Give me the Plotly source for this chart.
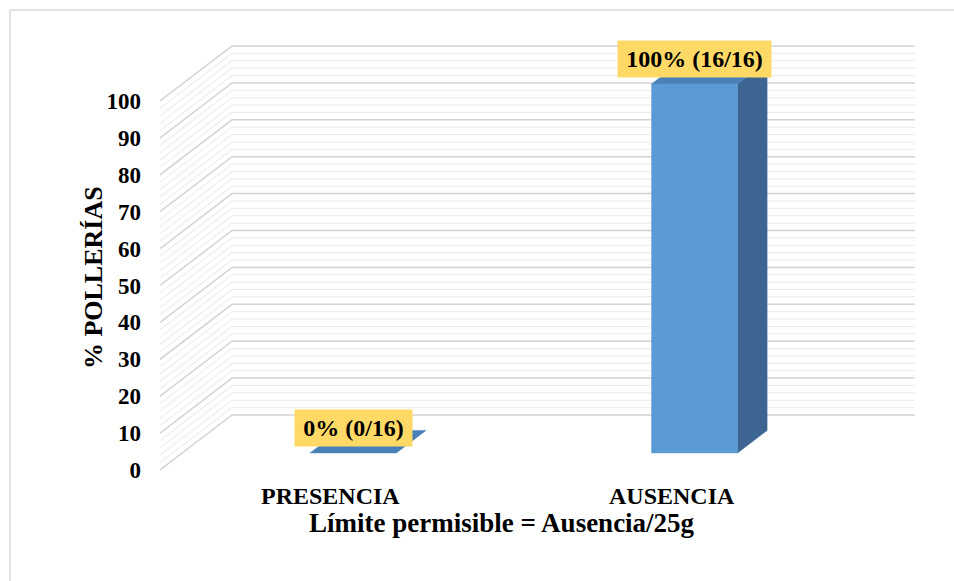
import plotly.graph_objects as go

# Data
categories = ["PRESENCIA", "AUSENCIA"]
percent = [0, 100]
counts = ["0/16", "16/16"]
y_ticks = list(range(0, 101, 10))

# Pseudo-3D geometry (in axis units)
PX_PER_CAT = 341.5          # pixels per category on the front plane
PX_PER_VAL = 3.69           # pixels per percentage point
DX = 72 / PX_PER_CAT        # horizontal shift of the back wall
DY = 55 / PX_PER_VAL        # vertical shift of the back wall
BAR_W = 86 / PX_PER_CAT
FRONT, BACK = 0.31, 0.72    # bar depth position (fraction of floor depth)

FRONT_COL = "#5B9BD5"
SIDE_COL = "#3C6591"
TOP_COL = "#4A80B8"
FONT = "Liberation Serif"

PLOT_L, PLOT_W, PLOT_T, PLOT_H = 160, 755, 30, 450
X0, X1 = -0.5, len(categories) - 0.5
Y_MIN = -10 / PX_PER_VAL
Y_MAX = 440 / PX_PER_VAL


def px_x(px):
    return (px - PLOT_L) / PLOT_W


def px_y(py):
    return (PLOT_T + PLOT_H - py) / PLOT_H


def proj(x, v, d):
    """Project a point at depth d (0=front, 1=back) to 2D axis coords."""
    return x + d * DX, v + d * DY


fig = go.Figure()

# Wall gridlines: side wall (left) + back wall
for v in range(0, 101, 2):
    major = v % 10 == 0
    pts = [proj(X0, v, 0), proj(X0, v, 1), proj(X1, v, 1)]
    fig.add_trace(go.Scatter(
        x=[p[0] for p in pts], y=[p[1] for p in pts], mode="lines",
        line=dict(color="#D3D3D3" if major else "#ECECEC", width=1.5 if major else 1.1),
        hoverinfo="skip", showlegend=False))


def poly(points, color):
    xs = [p[0] for p in points] + [points[0][0]]
    ys = [p[1] for p in points] + [points[0][1]]
    fig.add_trace(go.Scatter(
        x=xs, y=ys, mode="lines", fill="toself", fillcolor=color,
        line=dict(color=color, width=0.5), hoverinfo="skip", showlegend=False))


# Bars as boxes
for i, v in enumerate(percent):
    xl, xr = i - BAR_W / 2, i + BAR_W / 2
    # right side face
    poly([proj(xr, 0, FRONT), proj(xr, 0, BACK), proj(xr, v, BACK), proj(xr, v, FRONT)], SIDE_COL)
    # top face
    poly([proj(xl, v, FRONT), proj(xr, v, FRONT), proj(xr, v, BACK), proj(xl, v, BACK)], TOP_COL)
    # front face
    if v > 0:
        poly([proj(xl, 0, FRONT), proj(xr, 0, FRONT), proj(xr, v, FRONT), proj(xl, v, FRONT)], FRONT_COL)

# Data labels
label_w = [113, 149]
for i, v in enumerate(percent):
    lx, ly = proj(i, v, FRONT)
    fig.add_annotation(
        x=lx, y=ly, xref="x", yref="y", yanchor="bottom", yshift=6,
        text=f"<b>{v}% ({counts[i]})</b>", showarrow=False,
        font=dict(family=FONT, size=24, color="black"),
        bgcolor="#FFD966", borderpad=2, width=label_w[i], height=32)

# Category labels on the front floor edge
for i, c in enumerate(categories):
    fig.add_annotation(
        x=i, y=px_y(496), xref="x", yref="paper", xanchor="center", yanchor="middle",
        text=f"<b>{c}</b>", showarrow=False,
        font=dict(family=FONT, size=24, color="black"))

# Axis titles
fig.add_annotation(
    x=(X0 + X1) / 2, y=px_y(523), xref="x", yref="paper", xanchor="center", yanchor="middle",
    text="<b>Límite permisible = Ausencia/25g</b>", showarrow=False,
    font=dict(family=FONT, size=27, color="black"))
fig.add_annotation(
    x=px_x(93), xref="paper", y=52, yref="y", xanchor="center", yanchor="middle",
    textangle=-90, text="<b>% POLLERÍAS</b>", showarrow=False,
    font=dict(family=FONT, size=26, color="black"))

# Chart area border (top and left edges visible)
fig.add_shape(type="line", xref="paper", yref="paper",
              x0=px_x(10), x1=px_x(960), y0=px_y(10), y1=px_y(10),
              line=dict(color="#D9D9D9", width=1.5))
fig.add_shape(type="line", xref="paper", yref="paper",
              x0=px_x(10), x1=px_x(10), y0=px_y(10), y1=px_y(600),
              line=dict(color="#D9D9D9", width=1.5))

fig.update_layout(
    width=954, height=581,
    margin=dict(l=PLOT_L, r=954 - PLOT_L - PLOT_W, t=PLOT_T, b=581 - PLOT_T - PLOT_H),
    paper_bgcolor="white", plot_bgcolor="white",
    showlegend=False,
    xaxis=dict(range=[X0, X0 + PLOT_W / PX_PER_CAT], showgrid=False, zeroline=False,
               showline=False, showticklabels=False, fixedrange=True),
    yaxis=dict(range=[Y_MIN, Y_MAX], showgrid=False, zeroline=False, showline=False,
               tickvals=y_ticks, ticktext=[f"<b>{t}</b>" for t in y_ticks],
               ticks="", ticklabelstandoff=18,
               tickfont=dict(family=FONT, size=23, color="black"), fixedrange=True),
)

fig.write_html("out.html")
